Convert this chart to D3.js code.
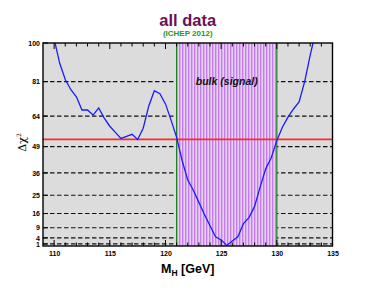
<!DOCTYPE html>
<html>
<head>
<meta charset="utf-8">
<script src="https://cdn.jsdelivr.net/npm/d3@7"></script>
<style>
  body { margin: 0; background: #fff; }
  svg { display: block; font-family: "Liberation Sans", Arial, sans-serif; }
</style>
</head>
<body>
<script>
// 图表尺寸
var width = 374;
var height = 289;
var margin = {top: 43, right: 41.5, bottom: 43, left: 43};

// 数据
var massValues = [110, 110.5, 111, 111.5, 112, 112.5, 113, 113.5, 114, 114.5, 115, 115.5,
                  116, 116.5, 117, 117.5, 118, 118.5, 119, 119.5, 120, 120.5, 121, 121.5,
                  122, 122.5, 123, 123.5, 124, 124.5, 125, 125.5, 126, 126.5, 127, 127.5,
                  128, 128.5, 129, 129.5, 130, 130.5, 131, 131.5, 132, 132.5, 133, 133.5];
var deltaChi2 = [102, 90, 82, 77, 73.5, 67, 67, 64.5, 68, 63, 59, 56,
                 53, 54, 55, 52.5, 58, 69, 76.5, 75, 70, 62, 53.5, 42,
                 32.5, 27.5, 21.5, 15.5, 10, 4.5, 3, 0.3, 2.5, 4.5, 11, 14,
                 19.5, 29, 38, 43.5, 52, 58.5, 63.5, 67.5, 71, 81, 94, 106];
var yTicks = [1, 4, 9, 16, 25, 36, 49, 64, 81, 100];
var xTicks = [110, 115, 120, 125, 130, 135];
var signalBand = [121, 130];
var threshold = [52.5];

var innerW = width - margin.left - margin.right;
var innerH = height - margin.top - margin.bottom;

var x = d3.scaleLinear().domain([109, 135]).range([0, innerW]);
var y = d3.scaleLinear().domain([0, 100]).range([innerH, 0]);

var svg = d3.select('body')
            .append('svg')
            .attr('width', width)
            .attr('height', height);

var defs = svg.append('defs');
var pat = defs.append('pattern')
              .attr('id', 'stripes')
              .attr('patternUnits', 'userSpaceOnUse')
              .attr('x', margin.left + x(signalBand[0]))
              .attr('width', 3)
              .attr('height', 10);
pat.append('rect').attr('width', 3).attr('height', 10).attr('fill', '#ffffff');
pat.append('rect').attr('x', 1).attr('width', 2).attr('height', 10).attr('fill', '#c47fe6');

defs.append('clipPath').attr('id', 'plotclip')
    .append('rect').attr('width', innerW).attr('height', innerH);

// 标题
svg.append('text')
   .attr('x', margin.left + innerW / 2)
   .attr('y', 26)
   .attr('text-anchor', 'middle')
   .attr('font-size', 16.5)
   .attr('font-weight', 'bold')
   .attr('fill', '#6d0f52')
   .text('all data');

svg.append('text')
   .attr('x', margin.left + innerW / 2)
   .attr('y', 36)
   .attr('text-anchor', 'middle')
   .attr('font-size', 8)
   .attr('font-weight', 'bold')
   .attr('fill', '#229922')
   .text('(ICHEP 2012)');

var g = svg.append('g')
           .attr('transform', 'translate(' + margin.left + ',' + margin.top + ')');

// 背景
g.append('rect')
 .attr('width', innerW)
 .attr('height', innerH)
 .attr('fill', '#dcdcdc');

// 虚线
g.selectAll('.grid')
 .data(yTicks.filter(function(d){ return d < 100; }))
 .enter()
 .append('line')
 .attr('x1', 0)
 .attr('x2', innerW)
 .attr('y1', function(d){ return y(d); })
 .attr('y2', function(d){ return y(d); })
 .attr('stroke', '#111')
 .attr('stroke-width', 1.2)
 .attr('stroke-dasharray', '4.5,2.5');

// 信号区
g.append('rect')
 .attr('x', x(signalBand[0]))
 .attr('width', x(signalBand[1]) - x(signalBand[0]))
 .attr('height', innerH)
 .attr('fill', 'url(#stripes)');

g.selectAll('.edge')
 .data(signalBand)
 .enter()
 .append('line')
 .attr('x1', function(d){ return x(d); })
 .attr('x2', function(d){ return x(d); })
 .attr('y1', 0)
 .attr('y2', innerH)
 .attr('stroke', '#1f7f1f')
 .attr('stroke-width', 1.2);

g.append('text')
 .attr('x', x((signalBand[0] + signalBand[1]) / 2))
 .attr('y', 42)
 .attr('text-anchor', 'middle')
 .attr('font-size', 10.5)
 .attr('font-weight', 'bold')
 .attr('font-style', 'italic')
 .attr('fill', '#111')
 .text('bulk (signal)');

// 红线
g.selectAll('.thr')
 .data(threshold)
 .enter()
 .append('line')
 .attr('x1', 0)
 .attr('x2', innerW)
 .attr('y1', function(d){ return y(d); })
 .attr('y2', function(d){ return y(d); })
 .attr('stroke', '#ff2a2a')
 .attr('stroke-width', 1.7);

// 曲线
var line = d3.line()
             .x(function(d, i){ return x(massValues[i]); })
             .y(function(d){ return y(d); });

g.append('path')
 .datum(deltaChi2)
 .attr('clip-path', 'url(#plotclip)')
 .attr('d', line)
 .attr('fill', 'none')
 .attr('stroke', '#1a1aff')
 .attr('stroke-width', 1.3);

// 坐标轴
var minorX = d3.range(110, 135, 1);
g.selectAll('.tickB')
 .data(minorX)
 .enter()
 .append('line')
 .attr('x1', function(d){ return x(d); })
 .attr('x2', function(d){ return x(d); })
 .attr('y1', innerH)
 .attr('y2', function(d){ return innerH - (d % 5 === 0 ? 6 : 3.5); })
 .attr('stroke', '#000')
 .attr('stroke-width', 1);

g.selectAll('.tickT')
 .data(minorX)
 .enter()
 .append('line')
 .attr('x1', function(d){ return x(d); })
 .attr('x2', function(d){ return x(d); })
 .attr('y1', 0)
 .attr('y2', function(d){ return d % 5 === 0 ? 6 : 3.5; })
 .attr('stroke', '#000')
 .attr('stroke-width', 1);

var xAxis = d3.axisBottom(x).tickValues(xTicks).tickSize(0).tickPadding(5);
g.append('g')
 .attr('transform', 'translate(0,' + innerH + ')')
 .call(xAxis)
 .call(function(s){
   s.select('.domain').remove();
   s.selectAll('text').attr('font-size', 7).attr('font-weight', 'bold')
    .attr('font-family', '"Liberation Sans", Arial, sans-serif').attr('fill', '#000');
 });

var yAxis = d3.axisLeft(y).tickValues(yTicks).tickSize(0).tickPadding(3);
g.append('g')
 .call(yAxis)
 .call(function(s){
   s.select('.domain').remove();
   s.selectAll('text').attr('font-size', 7).attr('font-weight', 'bold')
    .attr('font-family', '"Liberation Sans", Arial, sans-serif').attr('fill', '#000');
 });

g.selectAll('.tickL')
 .data(yTicks)
 .enter()
 .append('line')
 .attr('x1', 0)
 .attr('x2', 5)
 .attr('y1', function(d){ return y(d); })
 .attr('y2', function(d){ return y(d); })
 .attr('stroke', '#000')
 .attr('stroke-width', 1);

// 边框
g.append('rect')
 .attr('width', innerW)
 .attr('height', innerH)
 .attr('fill', 'none')
 .attr('stroke', '#000')
 .attr('stroke-width', 1.4);

// 轴标题
var xl = svg.append('text')
            .attr('x', margin.left + innerW / 2)
            .attr('y', 273)
            .attr('text-anchor', 'middle')
            .attr('font-size', 12.5)
            .attr('font-weight', 'bold')
            .attr('fill', '#000');
xl.append('tspan').text('M');
xl.append('tspan').attr('font-size', 8.5).attr('dy', 3).text('H');
xl.append('tspan').attr('dy', -3).text(' [GeV]');

var yl = svg.append('text')
            .attr('transform', 'translate(26,' + (margin.top + y(51)) + ') rotate(-90)')
            .attr('text-anchor', 'middle')
            .attr('font-size', 11)
            .attr('font-family', '"DejaVu Serif", serif')
            .attr('fill', '#000');
yl.append('tspan').text('Δχ');
yl.append('tspan').attr('font-size', 6).attr('dy', -5).text('2');
</script>
</body>
</html>
